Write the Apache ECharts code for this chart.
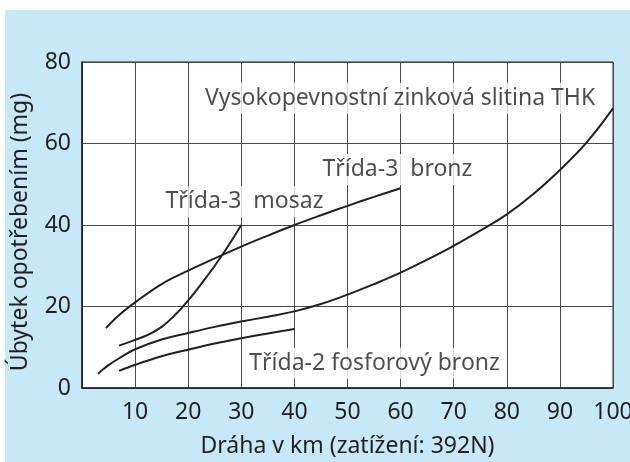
<!DOCTYPE html>
<html>
<head>
<meta charset="utf-8">
<script src="https://cdn.jsdelivr.net/npm/echarts@6/dist/echarts.min.js"></script>
<style>
  html, body { margin: 0; padding: 0; background: #fff; }
  #wrap { position: relative; width: 630px; height: 462px; }
  #bg { position: absolute; left: 5px; top: 10px; right: 0; bottom: 0; background: #c6e8f7; }
  #chart { position: absolute; left: 0; top: 0; width: 630px; height: 462px; }
</style>
</head>
<body>
<div id="wrap"><div id="bg"></div><div id="chart"></div></div>
<script>
// [dráha km, úbytek mg]
const zinkThk = [[3, 3.5], [5, 5.6], [7, 7.3], [10, 9.5], [15, 11.9], [20, 13.5], [25, 15], [30, 16.3], [35, 17.5],
  [40, 18.8], [45, 20.6], [50, 22.9], [55, 25.5], [60, 28.3], [65, 31.5], [70, 34.9], [75, 38.6],
  [80, 42.6], [85, 47.6], [90, 53.5], [95, 60.2], [100, 68.6]];
const trida3Bronz = [[4.5, 14.7], [7, 17.9], [10, 21], [15, 25.5], [20, 28.8], [25, 31.8], [30, 34.7], [35, 37.4],
  [40, 40], [45, 42.4], [50, 44.7], [55, 46.9], [60, 49]];
const trida3Mosaz = [[7, 10.4], [10, 11.8], [12.5, 13.1], [15, 15], [17.5, 17.9], [20, 21.5], [22.5, 25.6],
  [25, 30], [27.5, 34.8], [30, 40]];
const trida2Fosfor = [[7, 4.2], [10, 5.7], [15, 7.8], [20, 9.4], [25, 10.9], [30, 12.2], [35, 13.4], [40, 14.5]];

const labelTexts = ['Vysokopevnostní zinková slitina THK', 'Třída-3  bronz', 'Třída-3  mosaz', 'Třída-2 fosforový bronz'];
const labelPos = [[59.9, 71.1], [59.4, 53.6], [30.6, 45.7], [55.1, 6.1]];

const ink = '#231f20';
const font = 'Noto Sans';
const fs = 23;

const curve = (data) => ({
  type: 'line',
  data,
  smooth: 0.4,
  showSymbol: false,
  lineStyle: { color: ink, width: 2 },
  z: 3,
});

const chart = echarts.init(document.getElementById('chart'));
chart.setOption({
  backgroundColor: 'transparent',
  animation: false,
  textStyle: { fontFamily: font },
  grid: {
    left: 82, right: 17, top: 62, bottom: 74,
    outerBoundsMode: 'none',
    show: true, backgroundColor: '#fff', borderColor: ink, borderWidth: 1,
  },
  xAxis: {
    type: 'value', min: 0, max: 100, interval: 10,
    name: 'Dráha v km (zatížení: 392N)', nameLocation: 'middle', nameGap: 47,
    nameTextStyle: { color: ink, fontSize: fs, fontFamily: font },
    axisLine: { lineStyle: { color: ink, width: 1.5 } },
    axisTick: { show: false },
    axisLabel: { showMinLabel: false, color: ink, fontSize: fs, fontFamily: font, margin: 13 },
    splitLine: { lineStyle: { color: '#4a4a4a', width: 1 } },
  },
  yAxis: {
    type: 'value', min: 0, max: 80, interval: 20,
    name: 'Úbytek opotřebením (mg)', nameLocation: 'middle', nameGap: 50,
    nameTextStyle: { color: ink, fontSize: fs, fontFamily: font, padding: [0, 0, 0, -14] },
    axisLine: { lineStyle: { color: ink, width: 1.5 } },
    axisTick: { show: false },
    axisLabel: { color: ink, fontSize: fs, fontFamily: font, margin: 11 },
    splitLine: { lineStyle: { color: '#4a4a4a', width: 1 } },
  },
  series: [
    curve(zinkThk),
    curve(trida3Bronz),
    curve(trida3Mosaz),
    curve(trida2Fosfor),
    {
      type: 'scatter',
      symbolSize: 0,
      z: 2,
      data: labelTexts.map((t, i) => ({ name: t, value: labelPos[i] })),
      label: {
        show: true, position: 'inside', formatter: '{b}',
        color: ink, fontSize: fs, fontFamily: font,
        backgroundColor: '#fff', padding: [4, 2, 4, 2],
      },
    },
  ],
});
</script>
</body>
</html>
